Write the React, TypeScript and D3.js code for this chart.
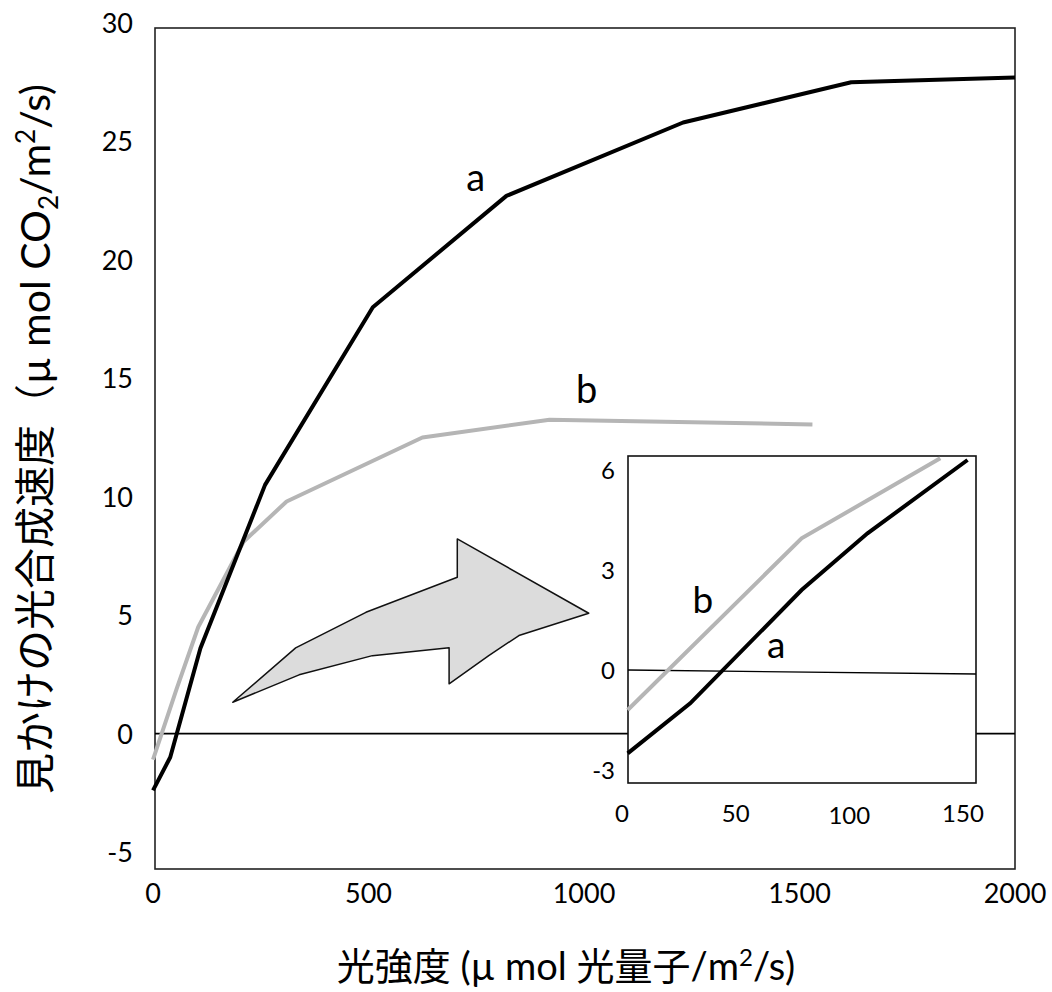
import React from "react";
import * as d3 from "d3";

// curve a (black) and b (gray) in the main chart
const aX = [0, 40, 110, 260, 510, 820, 1230, 1620, 2000];
const aY = [-2.4, -1.0, 3.6, 10.5, 18.0, 22.7, 25.8, 27.5, 27.7];
const bX = [0, 55, 105, 210, 310, 625, 920, 1530];
const bY = [-1.1, 1.9, 4.5, 8.1, 9.8, 12.5, 13.25, 13.05];

// inset (zoom of 0-150)
const insetAX = [2.5, 30, 79, 108, 152];
const insetAY = [-2.5, -1.0, 2.4, 4.1, 6.3];
const insetBX = [2.5, 79, 140];
const insetBY = [-1.2, 3.95, 6.35];

const xTicks = [0, 500, 1000, 1500, 2000];
const yTicks = [-5, 0, 5, 10, 15, 20, 25, 30];
const insetXTicks = [0, 50, 100, 150];
const insetYTicks = [-3, 0, 3, 6];

// arrow outline, in main chart units
const arrowX = [185, 331, 494, 706, 706, 1011, 849, 779, 687, 687, 509, 339];
const arrowY = [1.32, 3.62, 5.12, 6.6, 8.22, 5.08, 4.14, 3.29, 2.1, 3.62, 3.29, 2.48];

const W = 1052, H = 992;
const frame = { left: 155, top: 28, right: 1015, bottom: 869 };
const inset = { left: 628, top: 456, right: 976, bottom: 783 };

const tickFont = "Lato, 'Noto Sans', sans-serif";
const titleFont = "Lato, 'Noto Sans CJK JP', sans-serif";

export default function App() {
    const x = d3.scaleLinear().domain([0, 2000]).range([153, 1015]);
    const y = d3.scaleLinear().domain([-5, 30]).range([852, 23]);
    const ix = d3.scaleLinear().domain([0, 150]).range([622, 963]);
    const iy = d3.scaleLinear().domain([-3, 6]).range([770, 470]);

    const line = d3.line<[number, number]>().x(d => x(d[0])).y(d => y(d[1]));
    const iline = d3.line<[number, number]>().x(d => ix(d[0])).y(d => iy(d[1]));

    const zip = (xs: number[], ys: number[]) => xs.map((v, i) => [v, ys[i]] as [number, number]);

    const arrowPath = d3.line<[number, number]>().x(d => x(d[0])).y(d => y(d[1]))
        .curve(d3.curveLinearClosed)(zip(arrowX, arrowY)) || "";

    return (
        <svg width={W} height={H} style={{ position: "absolute", left: 0, top: 0, background: "#fff" }}>
            <rect x={frame.left} y={frame.top} width={frame.right - frame.left} height={frame.bottom - frame.top}
                fill="none" stroke="#222" strokeWidth={1.6} />
            <line x1={frame.left} x2={frame.right} y1={y(0)} y2={y(0)} stroke="#000" strokeWidth={1.8} />

            {yTicks.map(t => (
                <text key={"y" + t} x={133} y={y(t) + 10} textAnchor="end" fontFamily={tickFont} fontSize={27}>{t}</text>
            ))}
            {xTicks.map(t => (
                <text key={"x" + t} x={x(t)} y={903} textAnchor="middle" fontFamily={tickFont} fontSize={27}>{t}</text>
            ))}

            <path d={line(zip(bX, bY)) || ""} fill="none" stroke="#b5b5b5" strokeWidth={4} strokeLinejoin="round" />
            <path d={line(zip(aX, aY)) || ""} fill="none" stroke="#000" strokeWidth={4} strokeLinejoin="round" />

            <text x={x(749)} y={y(22.9)} textAnchor="middle" fontFamily={tickFont} fontSize={38}>a</text>
            <text x={x(1006)} y={y(13.97)} textAnchor="middle" fontFamily={tickFont} fontSize={38}>b</text>

            <path d={arrowPath} fill="#dcdcdc" stroke="#111" strokeWidth={1.5} strokeLinejoin="round" />

            {/* inset */}
            <rect x={inset.left} y={inset.top} width={inset.right - inset.left} height={inset.bottom - inset.top}
                fill="#fff" stroke="#111" strokeWidth={1.6} />
            <line x1={inset.left} x2={inset.right} y1={iy(0)} y2={iy(-0.12)} stroke="#000" strokeWidth={1.3} />
            <path d={iline(zip(insetBX, insetBY)) || ""} fill="none" stroke="#b5b5b5" strokeWidth={4} />
            <path d={iline(zip(insetAX, insetAY)) || ""} fill="none" stroke="#000" strokeWidth={4} />
            {insetYTicks.map(t => (
                <text key={"iy" + t} x={615} y={iy(t) + 9} textAnchor="end" fontFamily={tickFont} fontSize={24}>{t}</text>
            ))}
            {insetXTicks.map(t => (
                <text key={"ix" + t} x={ix(t)} y={t === 100 ? 824 : 822} textAnchor="middle" fontFamily={tickFont} fontSize={24}>{t}</text>
            ))}
            <text x={ix(35.6)} y={iy(1.72)} textAnchor="middle" fontFamily={tickFont} fontSize={37}>b</text>
            <text x={ix(67.8)} y={iy(0.36)} textAnchor="middle" fontFamily={tickFont} fontSize={37}>a</text>

            {/* axis titles */}
            <text x={566} y={980} textAnchor="middle" fontFamily={titleFont} fontSize={38}>
                光強度 (µ mol 光量子/m<tspan dy={-14} fontSize={24}>2</tspan><tspan dy={14}>/s)</tspan>
            </text>
            <text transform="translate(50,439) rotate(-90)" textAnchor="middle" fontFamily={titleFont} fontSize={41}>
                見かけの光合成速度（µ  mol CO<tspan dy={8} fontSize={26}>2</tspan><tspan dy={-8}>/m</tspan>
                <tspan dy={-15} fontSize={26}>2</tspan><tspan dy={15}>/s)</tspan>
            </text>
        </svg>
    );
}
